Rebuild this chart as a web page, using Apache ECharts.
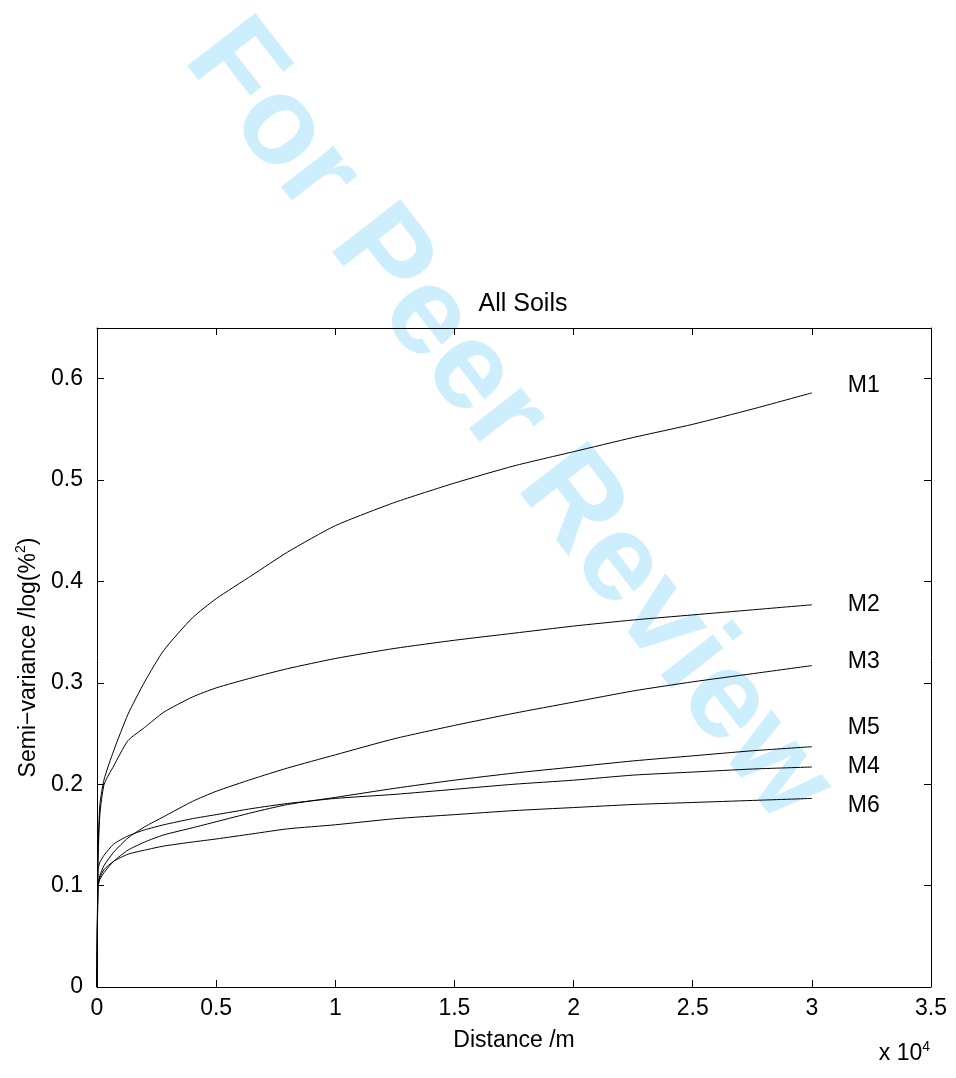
<!DOCTYPE html>
<html>
<head>
<meta charset="utf-8">
<script src="https://cdn.jsdelivr.net/npm/echarts@6/dist/echarts.min.js"></script>
<style>
  html, body { margin: 0; padding: 0; background: #fff; }
  #chart { width: 956px; height: 1078px; }
</style>
</head>
<body>
<div id="chart"></div>
<script>
// distance /m, shared by all series
const distance = [0, 40, 120, 300, 700, 1300, 2000, 2800, 4000, 5000, 6500, 8000, 10000, 12500, 15000, 17500, 20000, 22500, 25000, 27500, 30000];

const m1 = [0, 0.13, 0.18, 0.205, 0.233, 0.269, 0.301, 0.332, 0.364, 0.383, 0.406, 0.429, 0.455, 0.478, 0.497, 0.514, 0.528, 0.542, 0.555, 0.570, 0.586];
const m2 = [0, 0.12, 0.17, 0.2, 0.218, 0.243, 0.256, 0.271, 0.286, 0.295, 0.305, 0.314, 0.324, 0.334, 0.342, 0.349, 0.356, 0.362, 0.367, 0.372, 0.377];
const m3 = [0, 0.1, 0.11, 0.12, 0.133, 0.147, 0.158, 0.168, 0.183, 0.193, 0.205, 0.216, 0.229, 0.245, 0.258, 0.270, 0.281, 0.292, 0.301, 0.309, 0.317];
const m4 = [0, 0.115, 0.123, 0.13, 0.141, 0.149, 0.155, 0.16, 0.166, 0.170, 0.176, 0.181, 0.186, 0.190, 0.195, 0.200, 0.204, 0.209, 0.212, 0.215, 0.217];
const m5 = [0, 0.098, 0.106, 0.113, 0.124, 0.135, 0.143, 0.150, 0.157, 0.163, 0.172, 0.180, 0.187, 0.196, 0.204, 0.211, 0.217, 0.223, 0.228, 0.233, 0.237];
const m6 = [0, 0.1, 0.108, 0.116, 0.124, 0.131, 0.135, 0.139, 0.143, 0.146, 0.151, 0.156, 0.160, 0.166, 0.170, 0.174, 0.177, 0.180, 0.182, 0.184, 0.186];

const seriesNames = ['M1', 'M2', 'M3', 'M4', 'M5', 'M6'];
const seriesValues = [m1, m2, m3, m4, m5, m6];
// vertical shift of each end label, px
const labelShift = [-7, 0, -4, 0, -19, 7];

const font = 'Liberation Sans, Arial, Helvetica, sans-serif';

const chart = echarts.init(document.getElementById('chart'));

function pairs(values) {
  return distance.map((d, i) => [d, values[i]]);
}

const series = seriesNames.map((name, k) => ({
  name: name,
  type: 'line',
  data: pairs(seriesValues[k]),
  showSymbol: false,
  smooth: 0.2,
  lineStyle: {color: '#000', width: 1},
  endLabel: {
    show: true,
    formatter: name,
    distance: 36,
    offset: [0, labelShift[k]],
    color: '#000',
    fontFamily: font,
    fontSize: 23
  },
  animation: false
}));

const tickStyle = {inside: true, length: 7, lineStyle: {color: '#000'}};
const lineStyle = {show: true, onZero: false, lineStyle: {color: '#000', width: 1}};

chart.setOption({
  animation: false,
  title: {
    text: 'All Soils',
    left: 518,
    top: 287,
    textAlign: 'center',
    textStyle: {fontFamily: font, fontSize: 25, fontWeight: 'normal', color: '#000'}
  },
  grid: {left: 97, right: 25, top: 328, bottom: 91, containLabel: false},
  graphic: [{
    type: 'text',
    x: 508,
    y: 422,
    rotation: -0.91,
    z: -10,
    silent: true,
    style: {
      text: 'For Peer Review',
      font: 'bold 125px ' + font,
      fill: '#cdeefd',
      textAlign: 'center',
      textVerticalAlign: 'middle'
    }
  }, {
    type: 'text',
    right: 26,
    top: 1040,
    style: {
      text: 'x 10{s|4}',
      font: '23px ' + font,
      fill: '#000',
      rich: {s: {fontSize: 14, verticalAlign: 'top', padding: [0, 0, 14, 0]}}
    }
  }],
  xAxis: [{
    type: 'value',
    min: 0,
    max: 35000,
    interval: 5000,
    name: 'Distance /m',
    nameLocation: 'middle',
    nameGap: 42,
    nameTextStyle: {fontFamily: font, fontSize: 23, color: '#000'},
    axisLine: lineStyle,
    axisTick: tickStyle,
    axisLabel: {
      fontFamily: font, fontSize: 23, color: '#000', margin: 10,
      formatter: v => String(v / 10000)
    },
    splitLine: {show: false}
  }, {
    type: 'value',
    position: 'top',
    min: 0,
    max: 35000,
    interval: 5000,
    axisLine: lineStyle,
    axisTick: tickStyle,
    axisLabel: {show: false},
    splitLine: {show: false}
  }],
  yAxis: [{
    type: 'value',
    min: 0,
    max: 0.65,
    interval: 0.1,
    name: 'Semi\u2212variance /log(%{s|2})',
    nameLocation: 'middle',
    nameGap: 52,
    nameTextStyle: {
      fontFamily: font, fontSize: 23, color: '#000',
      rich: {s: {fontFamily: font, fontSize: 14, color: '#000', verticalAlign: 'top', padding: [0, 0, 14, 0]}}
    },
    axisLine: lineStyle,
    axisTick: tickStyle,
    axisLabel: {
      fontFamily: font, fontSize: 23, color: '#000', margin: 14,
      showMaxLabel: false,
      formatter: v => String(Math.round(v * 10) / 10)
    },
    splitLine: {show: false}
  }, {
    type: 'value',
    position: 'right',
    min: 0,
    max: 0.65,
    interval: 0.1,
    axisLine: lineStyle,
    axisTick: tickStyle,
    axisLabel: {show: false},
    splitLine: {show: false}
  }],
  series: series
});
</script>
</body>
</html>
